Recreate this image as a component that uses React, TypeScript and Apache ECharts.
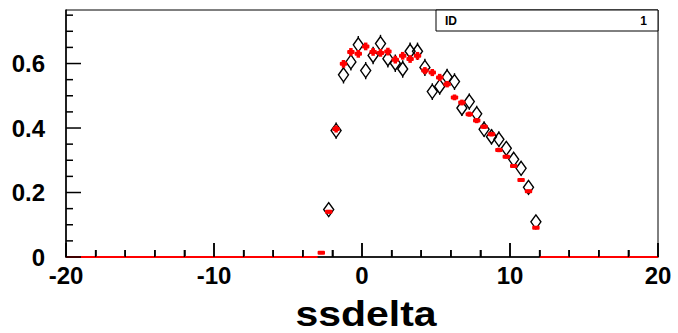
import React, { useEffect, useRef } from "react";
import * as echarts from "echarts";

// Bin centres (bin width 0.5)
const binCenters = [
  -2.75, -2.25, -1.75, -1.25, -0.75, -0.25, 0.25, 0.75, 1.25, 1.75,
  2.25, 2.75, 3.25, 3.75, 4.25, 4.75, 5.25, 5.75, 6.25, 6.75,
  7.25, 7.75, 8.25, 8.75, 9.25, 9.75, 10.25, 10.75, 11.25, 11.75,
];
const HALF_BIN = 0.25;

// Red histogram (filled markers)
const redValues = [
  0.013, 0.14, 0.397, 0.599, 0.636, 0.63, 0.653, 0.636, 0.633, 0.637,
  0.612, 0.624, 0.614, 0.624, 0.578, 0.572, 0.557, 0.536, 0.495, 0.479,
  0.443, 0.423, 0.404, 0.381, 0.332, 0.311, 0.282, 0.239, 0.204, 0.091,
];
const redErrors = [
  0.004, 0.006, 0.011, 0.012, 0.012, 0.012, 0.012, 0.012, 0.012, 0.012,
  0.012, 0.012, 0.012, 0.012, 0.011, 0.011, 0.011, 0.01, 0.009, 0.009,
  0.008, 0.008, 0.007, 0.007, 0.007, 0.006, 0.006, 0.006, 0.005, 0.004,
];
// Red empty bins drawn along zero
const redZeroRanges = [
  [-20, -3],
  [12, 20],
];

// Black histogram (open diamonds)
const blackValues = [
  null, 0.147, 0.392, 0.565, 0.605, 0.658, 0.578, 0.625, 0.662, 0.615,
  0.601, 0.583, 0.638, 0.638, 0.588, 0.513, 0.529, 0.558, 0.544, 0.462,
  0.482, 0.444, 0.396, 0.373, 0.365, 0.337, 0.303, 0.275, 0.216, 0.109,
];
const blackErrors = [
  0, 0.02, 0.025, 0.027, 0.027, 0.027, 0.027, 0.027, 0.027, 0.027,
  0.027, 0.027, 0.027, 0.027, 0.027, 0.026, 0.026, 0.026, 0.026, 0.025,
  0.025, 0.025, 0.024, 0.024, 0.024, 0.023, 0.023, 0.022, 0.021, 0.02,
];

// Axes and ticks
const xRange = { min: -20, max: 20, interval: 10 };
const yRange = { min: 0, max: 0.766, interval: 0.2 };
const xMajorTicks = [-20, -10, 0, 10, 20];
const xMinorTicks = [-18, -16, -14, -12, -8, -6, -4, -2, 2, 4, 6, 8, 12, 14, 16, 18];
const yMajorTicks = [0, 0.2, 0.4, 0.6];
const yMinorTicks = [0.05, 0.1, 0.15, 0.25, 0.3, 0.35, 0.45, 0.5, 0.55, 0.65, 0.7, 0.75];

const xTitle = "ssdelta";
const statsLabel = "ID";
const statsValue = "1";

const FONT = "'Liberation Sans', Arial, Helvetica, sans-serif";

export default function App() {
  const ref = useRef<HTMLDivElement>(null);

  useEffect(() => {
    if (!ref.current) return;
    const chart = echarts.init(ref.current, null, { renderer: "svg" });

    const redData = binCenters.map((c, i) => [c, redValues[i], redErrors[i]]);
    const blackData = binCenters
      .map((c, i) => [c, blackValues[i], blackErrors[i]])
      .filter((d) => d[1] !== null);

    const labelStyle = {
      color: "#000",
      fontFamily: FONT,
      fontWeight: "bold" as const,
      fontSize: 24,
    };

    const baseGraphic: any[] = [
      {
        type: "text",
        x: 366,
        y: 314,
        scaleX: 1.17,
        style: {
          text: xTitle,
          fill: "#000",
          font: `bold 35px ${FONT}`,
          align: "center",
          verticalAlign: "middle",
        },
        z: 11,
      },
      {
        type: "rect",
        shape: { x: 436, y: 10, width: 222, height: 21 },
        style: { fill: "#fff", stroke: "#000", lineWidth: 1 },
        z: 10,
      },
      {
        type: "text",
        x: 445,
        y: 21,
        style: {
          text: statsLabel,
          fill: "#000",
          font: `bold 12px ${FONT}`,
          verticalAlign: "middle",
        },
        z: 11,
      },
      {
        type: "text",
        x: 647,
        y: 21,
        style: {
          text: statsValue,
          fill: "#000",
          font: `bold 12px ${FONT}`,
          align: "right",
          verticalAlign: "middle",
        },
        z: 11,
      },
    ];

    const option: any = {
      animation: false,
      backgroundColor: "#fff",
      grid: {
        left: 66,
        right: 20,
        top: 10,
        bottom: 76,
        containLabel: false,
        outerBoundsMode: "none",
        show: true,
        borderColor: "#000",
        borderWidth: 1,
      },
      xAxis: {
        type: "value",
        min: xRange.min,
        max: xRange.max,
        interval: xRange.interval,
        position: "bottom",
        axisLine: { show: true, onZero: false, lineStyle: { color: "#000", width: 1.5 } },
        axisTick: { show: true, inside: true, length: 14, lineStyle: { color: "#000", width: 1.5 } },
        minorTick: { show: true, splitNumber: 5, length: 7, lineStyle: { color: "#000", width: 1.5 } },
        axisLabel: { ...labelStyle, margin: 6 },
        splitLine: { show: false },
      },
      yAxis: {
        type: "value",
        min: yRange.min,
        max: yRange.max,
        interval: yRange.interval,
        position: "left",
        axisLine: { show: true, onZero: false, lineStyle: { color: "#000", width: 1.5 } },
        axisTick: { show: false },
        axisLabel: {
          ...labelStyle,
          margin: 21,
          showMaxLabel: false,
          formatter: (v: number) => (v === 0 ? "0" : String(Math.round(v * 10) / 10)),
        },
        splitLine: { show: false },
      },
      series: [
        ...redZeroRanges.map((r) => ({
          type: "line",
          data: [
            [r[0], 0],
            [r[1], 0],
          ],
          symbol: "none",
          lineStyle: { color: "#ff0000", width: 2 },
          z: 6,
          silent: true,
        })),
        {
          type: "custom",
          data: blackData,
          z: 6,
          renderItem: (params: any, api: any) => {
            const x = api.value(0);
            const y = api.value(1);
            const e = api.value(2);
            const c = api.coord([x, y]);
            const t = api.coord([x, y + e]);
            const b = api.coord([x, y - e]);
            const hw = 5;
            const hh = 7;
            const children: any[] = [
              {
                type: "polygon",
                shape: {
                  points: [
                    [c[0], c[1] - hh],
                    [c[0] + hw, c[1]],
                    [c[0], c[1] + hh],
                    [c[0] - hw, c[1]],
                  ],
                },
                style: { fill: "none", stroke: "#000", lineWidth: 1.4 },
              },
            ];
            if (t[1] < c[1] - hh) {
              children.push({
                type: "line",
                shape: { x1: c[0], y1: t[1], x2: c[0], y2: c[1] - hh },
                style: { stroke: "#000", lineWidth: 1.4 },
              });
            }
            if (b[1] > c[1] + hh) {
              children.push({
                type: "line",
                shape: { x1: c[0], y1: c[1] + hh, x2: c[0], y2: b[1] },
                style: { stroke: "#000", lineWidth: 1.4 },
              });
            }
            return { type: "group", children };
          },
        },
        {
          type: "custom",
          data: redData,
          z: 7,
          renderItem: (params: any, api: any) => {
            const x = api.value(0);
            const y = api.value(1);
            const e = api.value(2);
            const c = api.coord([x, y]);
            const l = api.coord([x - HALF_BIN, y]);
            const r = api.coord([x + HALF_BIN, y]);
            const t = api.coord([x, y + e]);
            const b = api.coord([x, y - e]);
            return {
              type: "group",
              children: [
                {
                  type: "rect",
                  shape: { x: l[0], y: c[1] - 2, width: r[0] - l[0], height: 4, r: 1 },
                  style: { fill: "#ff0000" },
                },
                {
                  type: "rect",
                  shape: { x: c[0] - 1.75, y: t[1], width: 3.5, height: Math.max(b[1] - t[1], 0) },
                  style: { fill: "#ff0000" },
                },
              ],
            };
          },
        },
      ],
      graphic: baseGraphic,
    };

    chart.setOption(option);

    // Tick marks placed through the chart's own scales
    const toPx = (x: number, y: number) =>
      chart.convertToPixel({ xAxisIndex: 0, yAxisIndex: 0 } as any, [x, y]) as number[];
    const tickEls: any[] = [];
    const addX = (v: number, len: number) => {
      const p = toPx(v, yRange.min);
      if (!p || isNaN(p[0])) return;
      tickEls.push({
        type: "rect",
        shape: { x: p[0] - 0.75, y: p[1] - len, width: 1.5, height: len },
        style: { fill: "#000" },
        z: 12,
        silent: true,
      });
    };
    const addY = (v: number, len: number) => {
      const p = toPx(xRange.min, v);
      if (!p || isNaN(p[1])) return;
      tickEls.push({
        type: "rect",
        shape: { x: p[0], y: p[1] - 0.75, width: len, height: 1.5 },
        style: { fill: "#000" },
        z: 12,
        silent: true,
      });
    };
    xMajorTicks.forEach((v) => addX(v, 14));
    xMinorTicks.forEach((v) => addX(v, 7));
    yMajorTicks.forEach((v) => addY(v, 15));
    yMinorTicks.forEach((v) => addY(v, 7));

    chart.setOption({ graphic: [...baseGraphic, ...tickEls] });

    return () => chart.dispose();
  }, []);

  return (
    <div
      ref={ref}
      style={{ position: "fixed", left: 0, top: 0, width: 678, height: 333, background: "#fff" }}
    />
  );
}
